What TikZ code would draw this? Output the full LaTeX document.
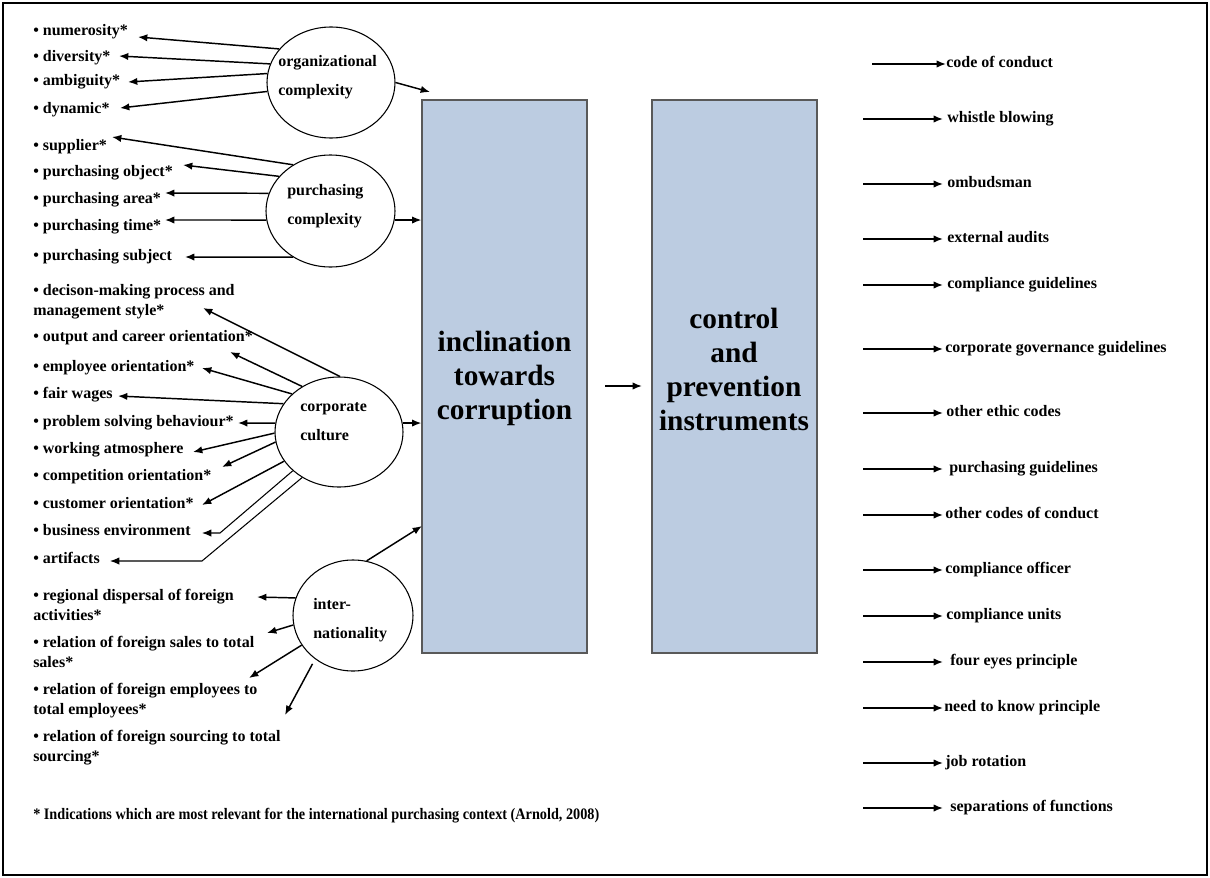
\documentclass[tikz,border=0pt]{standalone}
\usepackage{fontspec}
\usepackage{graphicx}
\setmainfont{Liberation Serif}
\usetikzlibrary{arrows.meta,shapes.geometric}
\definecolor{boxblue}{HTML}{BCCCE1}
\begin{document}
\begin{tikzpicture}[x=0.75pt,y=-0.75pt,
  lab/.style={font=\fontsize{12}{15}\selectfont\bfseries, inner sep=0pt, anchor=west, text height=8.2pt, text depth=2.6pt},
  labtwo/.style={font=\fontsize{12}{15}\selectfont\bfseries, inner sep=0pt, anchor=west, align=left},
  elltext/.style={font=\fontsize{12}{21.75}\selectfont\bfseries, inner sep=0pt, anchor=west, align=left},
  ell/.style={draw, ellipse, line width=0.8pt, inner sep=0pt},
  bigbox/.style={draw=black!65, fill=boxblue, line width=0.9pt, inner sep=0pt, minimum width=123.75pt, minimum height=414.75pt},
  bigtext/.style={font=\fontsize{22}{25.5}\selectfont\bfseries, align=center, inner sep=0pt},
  arr/.style={line width=1.1pt, -{Latex[length=7pt,width=5.5pt]}},
  tarr/.style={line width=0.8pt, -{Latex[length=7pt,width=5.5pt]}},
]
\useasboundingbox (0,0) rectangle (1210,878);
\draw[line width=1.2pt] (3,3) rectangle (1207,875);

% big boxes
\node[bigbox] (box1) at (504.5,376.5) {};
\node[bigbox] (box2) at (734.5,376.5) {};
\node[bigtext] (t1) at (504.5,378.5) {inclination\\towards\\corruption};
\node[bigtext] (t2) at (734,369.5) {control\\and\\prevention\\instruments};

% ellipses
\node[ell, minimum width=96pt, minimum height=83.25pt] (org) at (331,82.5) {};
\node[ell, minimum width=96.75pt, minimum height=84pt] (pc) at (330.5,211) {};
\node[ell, minimum width=96pt, minimum height=82.5pt] (cc) at (339,432) {};
\node[ell, minimum width=90pt, minimum height=83.25pt] (intl) at (353,615.5) {};
\node[elltext] (orgt) at (278,77.5) {organizational\\complexity};
\node[elltext] (pct) at (287,206.5) {purchasing\\complexity};
\node[elltext] (cct) at (300,421.5) {corporate\\culture};
\node[elltext] (intlt) at (313,620) {inter-\\nationality};

% left labels
\node[lab] (L1) at (33,32) {• numerosity*};
\node[lab] (L2) at (33,58) {• diversity*};
\node[lab] (L3) at (33,82) {• ambiguity*};
\node[lab] (L4) at (33,110) {• dynamic*};
\node[lab] (L5) at (33,147) {• supplier*};
\node[lab] (L6) at (33,173) {• purchasing object*};
\node[lab] (L7) at (33,200) {• purchasing area*};
\node[lab] (L8) at (33,227) {• purchasing time*};
\node[lab] (L9) at (33,257) {• purchasing subject};
\node[labtwo] (L10) at (33,302) {• decison-making process and\\management style*};
\node[lab] (L11) at (33,338) {• output and career orientation*};
\node[lab] (L12) at (33,368) {• employee orientation*};
\node[lab] (L13) at (33,395) {• fair wages};
\node[lab] (L14) at (33,423) {• problem solving behaviour*};
\node[lab] (L15) at (33,450) {• working atmosphere};
\node[lab] (L16) at (33,477) {• competition orientation*};
\node[lab] (L17) at (33,505) {• customer orientation*};
\node[lab] (L18) at (33,532) {• business environment};
\node[lab] (L19) at (33,560) {• artifacts};
\node[labtwo] (L20) at (33,605) {• regional dispersal of foreign\\activities*};
\node[labtwo] (L21) at (33,652) {• relation of foreign sales to total\\sales*};
\node[labtwo] (L22) at (33,701) {• relation of foreign employees to\\total employees*};
\node[labtwo] (L23) at (33,748) {• relation of foreign sourcing to total\\sourcing*};

% arrow tips on the left
\coordinate (a1) at (138,37);
\coordinate (a2) at (119,56);
\coordinate (a3) at (128,82);
\coordinate (a4) at (120,108);
\coordinate (b1) at (112,137);
\coordinate (b2) at (183,165);
\coordinate (b3) at (165,193);
\coordinate (b4) at (165,220);
\coordinate (b5) at (185,257);
\coordinate (c1) at (203,308);
\coordinate (c2) at (230,352);
\coordinate (c3) at (202,368);
\coordinate (c4) at (118,396);
\coordinate (c5) at (238,423);
\coordinate (c6) at (193,452);
\coordinate (c7) at (222,467);
\coordinate (c8) at (202,505);
\coordinate (c9k) at (220,533);
\coordinate (c9) at (202,533);
\coordinate (c10k) at (202,561);
\coordinate (c10) at (110,561);
\coordinate (d1) at (257,597);
\coordinate (d2) at (267,633);
\coordinate (d3) at (249,678);
\coordinate (d4) at (285,715);

\draw[arr] (org.147) -- (a1);
\draw[arr] (org.163) -- (a2);
\draw[arr] (org.172) -- (a3);
\draw[arr] (org.188) -- (a4);
\draw[arr] (pc.129) -- (b1);
\draw[arr] (pc.146) -- (b2);
\draw[arr] (pc.164) -- (b3);
\draw[arr] (pc.188) -- (b4);
\draw[arr] (pc.231) -- (b5);
\draw[arr] (cc.89) -- (c1);
\draw[arr] (cc.129) -- (c2);
\draw[arr] (cc.141) -- (c3);
\draw[arr] (cc.153) -- (c4);
\draw[arr] (cc.172) -- (c5);
\draw[arr] (cc.181) -- (c6);
\draw[arr] (cc.189) -- (c7);
\draw[arr] (cc.208) -- (c8);
\draw[tarr] (cc.220) -- (c9k) -- (c9);
\draw[tarr] (cc.231) -- (c10k) -- (c10);
\draw[arr] (intl.163) -- (d1);
\draw[arr] (intl.189) -- (d2);
\draw[arr] (intl.210) -- (d3);
\draw[arr, shorten <=4pt] (intl.229) -- (d4);

% arrows into the first box
\coordinate (e1) at (430,92);
\coordinate (e4) at (422,526);
\draw[arr] (org.0) -- (e1);
\draw[arr] (pc.-8) -- (pc.-8 -| box1.west);
\draw[arr] (cc.8) -- (cc.8 -| box1.west);
\draw[arr] (intl.76) -- (e4);

% middle arrow
\coordinate (m1) at (605,386);
\coordinate (m2) at (642,386);
\draw[arr] (m1) -- (m2);

% right side
\node[lab] (R1) at (946,64) {code of conduct};
\node[lab] (R2) at (947,119) {whistle blowing};
\node[lab] (R3) at (947,184) {ombudsman};
\node[lab] (R4) at (947,239) {external audits};
\node[lab] (R5) at (947,285) {compliance guidelines};
\node[lab] (R6) at (945,349) {corporate governance guidelines};
\node[lab] (R7) at (946,413) {other ethic codes};
\node[lab] (R8) at (949,469) {purchasing guidelines};
\node[lab] (R9) at (945,515) {other codes of conduct};
\node[lab] (R10) at (945,570) {compliance officer};
\node[lab] (R11) at (946,616) {compliance units};
\node[lab] (R12) at (950,662) {four eyes principle};
\node[lab] (R13) at (944,708) {need to know principle};
\node[lab] (R14) at (945,763) {job rotation};
\node[lab] (R15) at (950,808) {separations of functions};

\coordinate (s1) at (872,64);
\draw[arr] (s1) -- (R1.west);
\foreach \i/\y in {2/119,3/184,4/239,5/285,6/349,7/413,8/469,9/515,10/570,11/616,12/662,13/708,14/763,15/808}{
  \coordinate (s\i) at (863,\y);
  \draw[arr] (s\i) -- (s\i -| 943,0);
}

% footnote
\node[lab] (foot) at (33,816) {\scalebox{0.89}[1]{* Indications which are most relevant for the international purchasing context (Arnold, 2008)}};
\end{tikzpicture}
\end{document}
